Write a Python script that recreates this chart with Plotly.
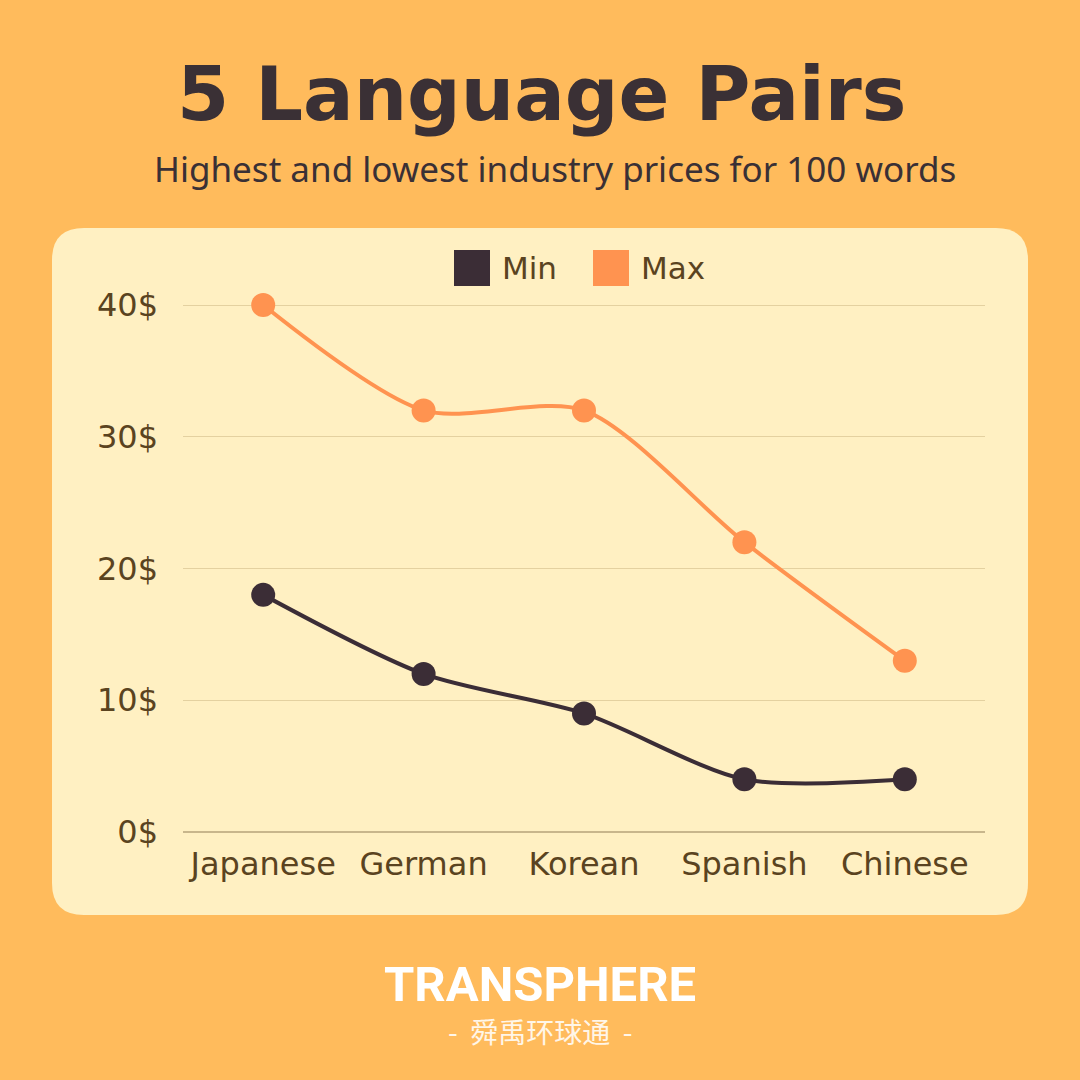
import plotly.graph_objects as go

# chart data
languages = ["Japanese", "German", "Korean", "Spanish", "Chinese"]
min_price = [18, 12, 9, 4, 4]
max_price = [40, 32, 32, 22, 13]
y_ticks = [0, 10, 20, 30, 40]
y_tick_labels = [f"{v}$" for v in y_ticks]

BG = "#FFBB5C"
PANEL = "#FFF0C2"
DARK = "#3B2D36"
ORANGE = "#FF9350"
TEXT = "#5A4320"
FONT = "DejaVu Sans"

W = H = 1080


def px_x(x):
    return x / W


def px_y(y):
    return 1 - y / H


def rounded_rect(x0, y0, x1, y1, r):
    # pixel coords (top-left origin) -> paper path
    X0, X1 = px_x(x0), px_x(x1)
    Y0, Y1 = px_y(y0), px_y(y1)
    rx, ry = r / W, r / H
    return (f"M {X0 + rx},{Y0} L {X1 - rx},{Y0} Q {X1},{Y0} {X1},{Y0 - ry} "
            f"L {X1},{Y1 + ry} Q {X1},{Y1} {X1 - rx},{Y1} "
            f"L {X0 + rx},{Y1} Q {X0},{Y1} {X0},{Y1 + ry} "
            f"L {X0},{Y0 - ry} Q {X0},{Y0} {X0 + rx},{Y0} Z")


fig = go.Figure()

fig.add_trace(go.Scatter(
    x=languages, y=min_price, name="Min", mode="lines+markers",
    line=dict(color=DARK, width=4, shape="spline", smoothing=0.8),
    marker=dict(color=DARK, size=24),
    cliponaxis=False, showlegend=False,
))
fig.add_trace(go.Scatter(
    x=languages, y=max_price, name="Max", mode="lines+markers",
    line=dict(color=ORANGE, width=4, shape="spline", smoothing=0.8),
    marker=dict(color=ORANGE, size=24),
    cliponaxis=False, showlegend=False,
))

shapes = [
    dict(type="path", xref="paper", yref="paper", layer="below",
         path=rounded_rect(52, 228, 1028, 915, 32),
         fillcolor=PANEL, line=dict(width=0)),
    # legend swatches
    dict(type="rect", xref="paper", yref="paper",
         x0=px_x(454), x1=px_x(490), y0=px_y(286), y1=px_y(250),
         fillcolor=DARK, line=dict(width=0)),
    dict(type="rect", xref="paper", yref="paper",
         x0=px_x(593), x1=px_x(629), y0=px_y(286), y1=px_y(250),
         fillcolor=ORANGE, line=dict(width=0)),
]

annotations = [
    dict(text="<b>5 Language Pairs</b>", x=px_x(541), y=px_y(94), xref="paper", yref="paper",
         showarrow=False, xanchor="center", yanchor="middle",
         font=dict(family=FONT, size=75, color="#3A3035")),
    dict(text="Highest and lowest industry prices for 100 words", x=px_x(555), y=px_y(168),
         xref="paper", yref="paper", showarrow=False, xanchor="center", yanchor="middle",
         font=dict(family="Noto Sans", size=35, color="#3A3035")),
    dict(text="Min", x=px_x(500), y=px_y(268), xref="paper", yref="paper",
         showarrow=False, xanchor="left", yanchor="middle",
         font=dict(family=FONT, size=31, color=TEXT)),
    dict(text="Max", x=px_x(639), y=px_y(268), xref="paper", yref="paper",
         showarrow=False, xanchor="left", yanchor="middle",
         font=dict(family=FONT, size=31, color=TEXT)),
    dict(text="<b>TRANSPHERE</b>", x=px_x(540), y=px_y(984), xref="paper", yref="paper",
         showarrow=False, xanchor="center", yanchor="middle",
         font=dict(family="Roboto", size=49, color="white")),
    dict(text="-  舜禹环球通  -", x=px_x(540), y=px_y(1031), xref="paper", yref="paper",
         showarrow=False, xanchor="center", yanchor="middle",
         font=dict(family="Noto Sans CJK SC", size=28, color="#FFF6E8")),
]

fig.update_layout(
    width=W, height=H, autosize=False,
    margin=dict(l=0, r=0, t=0, b=0, pad=0, autoexpand=False),
    paper_bgcolor=BG, plot_bgcolor="rgba(0,0,0,0)",
    shapes=shapes, annotations=annotations,
    showlegend=False,
    xaxis=dict(
        domain=[px_x(183), px_x(985)], range=[-0.5, 4.5],
        showgrid=False, zeroline=False, showline=False, ticks="",
        tickfont=dict(family=FONT, size=32, color=TEXT),
        ticklabelstandoff=10, automargin=False,
        fixedrange=True,
    ),
    yaxis=dict(
        domain=[px_y(832), px_y(304)], range=[0, 40.08],
        tickvals=y_ticks, ticktext=y_tick_labels,
        showgrid=True, gridcolor="#E4D1A0", gridwidth=1,
        zeroline=True, zerolinecolor="#C8B68C", zerolinewidth=2,
        showline=False, ticks="", ticklabelstandoff=24, automargin=False,
        tickfont=dict(family=FONT, size=32, color=TEXT),
        fixedrange=True,
    ),
)

fig.write_html(
    "out.html",
    config={"displayModeBar": False},
    post_script="document.body.style.margin='0';document.body.style.overflow='hidden';",
)
